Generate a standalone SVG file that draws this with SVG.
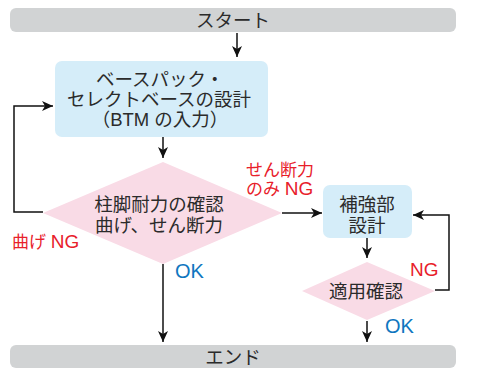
<svg xmlns="http://www.w3.org/2000/svg" width="493" height="383" viewBox="0 0 493 383">
<style>
text{font-family:"Liberation Sans","Noto Sans CJK JP",sans-serif;}
.t{font-size:18.5px;fill:#2b2b2b;text-anchor:middle;}
.red{font-size:17px;fill:#e8202a;}
.red tspan{font-size:19px;}
.blue{font-size:20px;fill:#0f76c0;}
.bar{fill:#d1d3d4;}
.box{fill:#d5edf9;}
.dia{fill:#f9dbe6;}
.ln{fill:none;stroke:#111;stroke-width:1.5;}
</style>
<defs>
<marker id="ah" markerUnits="userSpaceOnUse" markerWidth="12" markerHeight="12" viewBox="0 0 12 12" refX="11" refY="6" orient="auto">
<path d="M0,1 L11,6 L0,11 L3,6 Z" fill="#111"/>
</marker>
</defs>
<g id="start"><rect class="bar" x="10" y="8" width="446" height="24" rx="6"/><text class="t" x="233" y="27">スタート</text></g>
<g id="design"><rect class="box" x="55" y="61" width="213" height="76" rx="7"/>
<text class="t" x="160" y="86">ベースパック・</text>
<text class="t" x="159" y="106">セレクトベースの設計</text>
<text class="t" x="160" y="126">（BTM の入力）</text></g>
<g id="check1"><polygon class="dia" points="163,162 282,213 163,264 43,213"/>
<text class="t" x="159" y="211">柱脚耐力の確認</text>
<text class="t" x="159" y="232">曲げ、せん断力</text></g>
<g id="reinforce"><rect class="box" x="323" y="185" width="89" height="53" rx="7"/>
<text class="t" x="367" y="211">補強部</text>
<text class="t" x="367" y="232">設計</text></g>
<g id="check2"><polygon class="dia" points="367,262 435,291 367,320 302,291"/>
<text class="t" x="366" y="298">適用確認</text></g>
<g id="end"><rect class="bar" x="10" y="345" width="446" height="23" rx="6"/><text class="t" x="233" y="364">エンド</text></g>
<g id="connectors">
<path class="ln" d="M237,33 V57" marker-end="url(#ah)"/>
<path class="ln" d="M163,137 V158" marker-end="url(#ah)"/>
<path class="ln" d="M43,212 H14 V106 H53" marker-end="url(#ah)"/>
<path class="ln" d="M282,213 H322" marker-end="url(#ah)"/>
<path class="ln" d="M367,238 V258" marker-end="url(#ah)"/>
<path class="ln" d="M435,290 H449 V215 H413" marker-end="url(#ah)"/>
<path class="ln" d="M367,321 V342" marker-end="url(#ah)"/>
<path class="ln" d="M163,264 V342" marker-end="url(#ah)"/>
</g>
<g id="labels">
<text class="red" x="246" y="176">せん断力</text>
<text class="red" x="246" y="195">のみ <tspan>NG</tspan></text>
<text class="red" x="12" y="248">曲げ <tspan>NG</tspan></text>
<text class="red" x="410" y="276"><tspan>NG</tspan></text>
<text class="blue" x="175" y="278">OK</text>
<text class="blue" x="385" y="333">OK</text>
</g>
</svg>
